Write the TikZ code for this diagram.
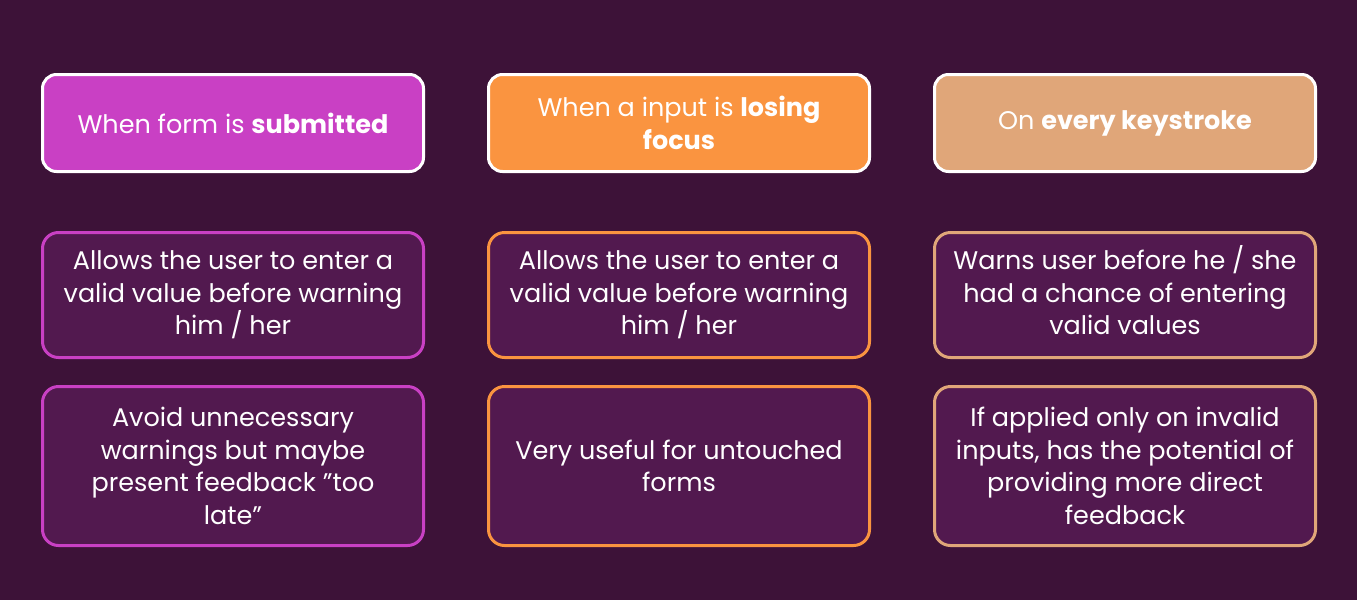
\documentclass[tikz,border=0pt]{standalone}
\usepackage{fontspec}
\setmainfont{Poppins}
\definecolor{bg}{HTML}{3D1238}
\definecolor{inner}{HTML}{52194F}
\definecolor{cA}{HTML}{C940C4}
\definecolor{cB}{HTML}{FA9440}
\definecolor{cC}{HTML}{E0A679}
\tikzset{
  head/.style={draw=white, line width=3pt, rounded corners=14pt, minimum width=381pt, minimum height=97pt, align=center, text=white, font=\fontsize{25.5}{32.5}\selectfont, anchor=north west, inner sep=0pt},
  bodybox/.style={fill=inner, line width=3pt, rounded corners=16pt, minimum width=381pt, align=center, text=white, font=\fontsize{25.5}{32.5}\selectfont, anchor=north west, inner sep=0pt},
}
\begin{document}
\begin{tikzpicture}[x=1pt,y=-1pt]
\fill[bg] (0,0) rectangle (1357,600);
\useasboundingbox (0,0) rectangle (1357,600);
\node[head, fill=cA] (h1) at (41,73) {When form is \textbf{submitted}};
\node[head, fill=cB] (h2) at (487,73) {When a input is \textbf{losing}\\\textbf{focus}};
\node[head, fill=cC] (h3) at (933,73) {On \textbf{every keystroke}};
\node[bodybox, draw=cA, minimum height=125pt] (a1) at (41,231) {Allows the user to enter a\\valid value before warning\\him / her};
\node[bodybox, draw=cB, minimum height=125pt] (b1) at (487,231) {Allows the user to enter a\\valid value before warning\\him / her};
\node[bodybox, draw=cC, minimum height=125pt] (c1) at (933,231) {Warns user before he / she\\had a chance of entering\\valid values\strut};
\node[bodybox, draw=cA, minimum height=159pt] (a2) at (41,385) {Avoid unnecessary\\warnings but maybe\\present feedback ”too\\late”};
\node[bodybox, draw=cB, minimum height=159pt] (b2) at (487,385) {Very useful for untouched\\forms};
\node[bodybox, draw=cC, minimum height=159pt] (c2) at (933,385) {If applied only on invalid\\inputs, has the potential of\\providing more direct\\feedback};
\end{tikzpicture}
\end{document}
